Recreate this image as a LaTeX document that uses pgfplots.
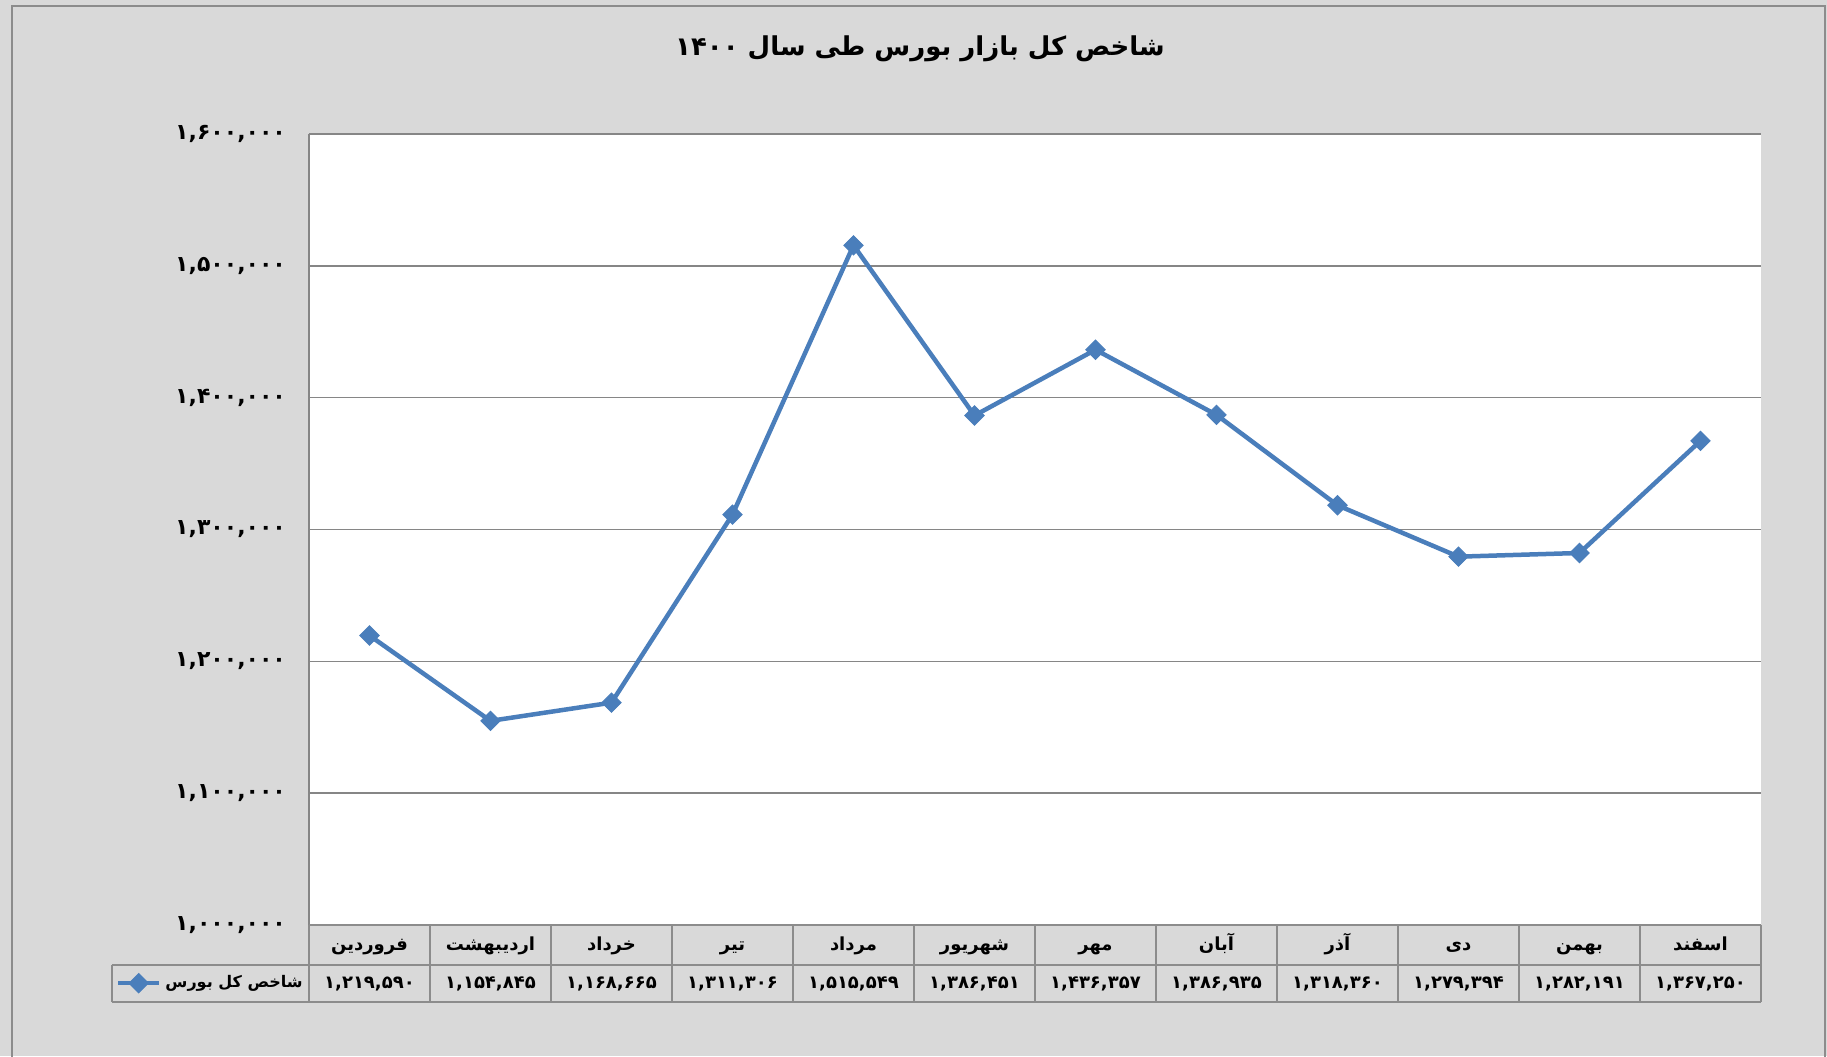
\documentclass[border=0pt]{standalone}
\usepackage{pgfplots}
\pgfplotsset{compat=1.18}
\usepackage{fontspec}
\setmainfont{Liberation Sans}
\newfontfamily\arabicfont[Script=Arabic]{DejaVu Sans}
\TeXXeTstate=1
\definecolor{bg}{HTML}{D9D9D9}
\definecolor{framegray}{HTML}{8C8C8C}
\definecolor{gridgray}{HTML}{868686}
\definecolor{tablegray}{HTML}{8C8C8C}
\definecolor{lineblue}{HTML}{4A7EBB}
\newcommand{\tfont}{\arabicfont\bfseries\fontsize{9}{10}\selectfont}
\begin{document}
\begin{tikzpicture}
\path[use as bounding box] (0,0) rectangle (913.5pt,528pt);
\fill[bg] (0,0) rectangle (913.5pt,528pt);
\draw[framegray, line width=1.2pt] (6pt,-5pt) -- (6pt,525pt) -- (912.5pt,525pt) -- (912.5pt,-5pt);
\node[font=\arabicfont\bfseries\fontsize{13}{15}\selectfont] at (460pt,503.5pt) {\beginR شاخص کل بازار بورس طی سال ۱۴۰۰\endR};
\begin{axis}[
  at={(154.5pt,65.5pt)}, anchor=south west,
  width=726pt, height=395.5pt, scale only axis,
  xmin=-0.5, xmax=11.5, ymin=1000000, ymax=1600000,
  clip=false,
  axis background/.style={fill=white},
  axis x line*=bottom, axis y line*=left,
  axis line style={color=gridgray, line width=0.75pt},
  ymajorgrids, grid style={color=gridgray, line width=0.75pt},
  major tick length=0pt,
  scaled y ticks=false,
  ytick={1000000,1100000,1200000,1300000,1400000,1500000,1600000},
  yticklabels={{۱,۰۰۰,۰۰۰},{۱,۱۰۰,۰۰۰},{۱,۲۰۰,۰۰۰},{۱,۳۰۰,۰۰۰},{۱,۴۰۰,۰۰۰},{۱,۵۰۰,۰۰۰},{۱,۶۰۰,۰۰۰}},
  yticklabel style={font=\arabicfont\bfseries\fontsize{11}{12}\selectfont, xshift=-8pt},
  xtick={0,...,11},
  xticklabels={{\beginR فروردین\endR},{\beginR اردیبهشت\endR},{\beginR خرداد\endR},{\beginR تیر\endR},{\beginR مرداد\endR},{\beginR شهریور\endR},{\beginR مهر\endR},{\beginR آبان\endR},{\beginR آذر\endR},{\beginR دی\endR},{\beginR بهمن\endR},{\beginR اسفند\endR}},
  xticklabel style={font=\tfont, anchor=center, text height=8pt, text depth=3pt, yshift=-10pt},
  extra x ticks={0,...,11},
  extra x tick labels={{۱,۲۱۹,۵۹۰},{۱,۱۵۴,۸۴۵},{۱,۱۶۸,۶۶۵},{۱,۳۱۱,۳۰۶},{۱,۵۱۵,۵۴۹},{۱,۳۸۶,۴۵۱},{۱,۴۳۶,۳۵۷},{۱,۳۸۶,۹۳۵},{۱,۳۱۸,۳۶۰},{۱,۲۷۹,۳۹۴},{۱,۲۸۲,۱۹۱},{۱,۳۶۷,۲۵۰}},
  extra x tick style={xticklabel style={yshift=-19.25pt}, grid=none},
  legend style={at={(rel axis cs:0.0,-0.0736)}, anchor=east, draw=none, fill=none, font=\arabicfont\bfseries\fontsize{8}{9}\selectfont, inner sep=1pt},
  legend image code/.code={\draw[mark repeat=2,mark phase=2] plot coordinates {(0cm,0cm) (0.36cm,0cm) (0.72cm,0cm)};},
]
\addplot[color=lineblue, line width=2.25pt, mark=square*, mark size=3.4pt, mark options={rotate=45, line width=0.5pt}]
coordinates {
(0,1219590) (1,1154845) (2,1168665) (3,1311306) (4,1515549) (5,1386451)
(6,1436357) (7,1386935) (8,1318360) (9,1279394) (10,1282191) (11,1367250)
};
\addlegendentry{\beginR شاخص کل بورس\endR}
\pgfplotsinvokeforeach{0,...,12}{
  \draw[tablegray, line width=1pt] (rel axis cs:#1/12,0) -- (rel axis cs:#1/12,-0.0973);
}
\draw[tablegray, line width=1pt] (rel axis cs:0,0) -- (rel axis cs:1,0);
\draw[tablegray, line width=1pt] (rel axis cs:-0.1357,-0.0506) -- (rel axis cs:1,-0.0506);
\draw[tablegray, line width=1pt] (rel axis cs:-0.1357,-0.0973) -- (rel axis cs:1,-0.0973);
\draw[tablegray, line width=1pt] (rel axis cs:-0.1357,-0.0506) -- (rel axis cs:-0.1357,-0.0973);
\end{axis}
\end{tikzpicture}
\end{document}
